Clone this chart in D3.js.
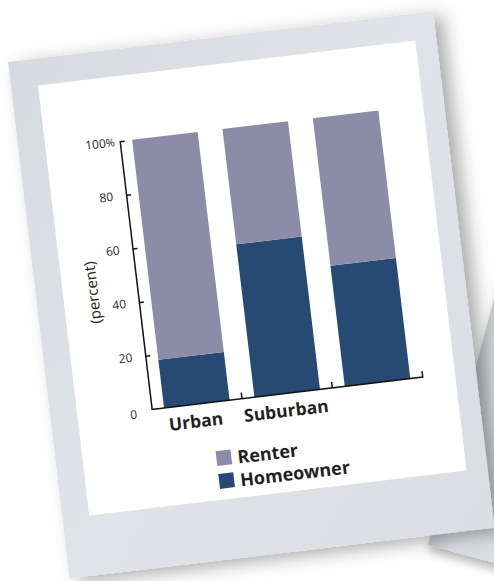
<!DOCTYPE html>
<html><head><meta charset="utf-8">
<script src="https://cdn.jsdelivr.net/npm/d3@7"></script>
<style>
html,body{margin:0;padding:0;background:#fff;overflow:hidden;}
svg{display:block;}
</style></head>
<body>
<script>
// ---- data ----
const categories = ["Urban", "Suburban", ""];
const homeowner = [18, 57, 45];
const renter = [82, 43, 55];
const seriesNames = ["Renter", "Homeowner"];
const yTicks = [0, 20, 40, 60, 80, 100];
const yTitle = "(percent)";

const colors = {Renter: "#8c8ca8", Homeowner: "#264a73"};

const W = 494, H = 581;
const svg = d3.select("body").append("svg").attr("width", W).attr("height", H);
svg.append("rect").attr("width", W).attr("height", H).attr("fill", "#fff");

const defs = svg.append("defs");
const f = defs.append("filter").attr("id", "shadow").attr("x", "-20%").attr("y", "-20%").attr("width", "140%").attr("height", "140%");
f.append("feDropShadow").attr("dx", 9).attr("dy", 5).attr("stdDeviation", 9).attr("flood-color", "#000").attr("flood-opacity", 0.33);
const f2 = defs.append("filter").attr("id", "shadow2").attr("x", "-20%").attr("y", "-20%").attr("width", "140%").attr("height", "140%");
f2.append("feDropShadow").attr("dx", 3).attr("dy", 6).attr("stdDeviation", 5).attr("flood-color", "#000").attr("flood-opacity", 0.28);

const g1 = defs.append("linearGradient").attr("id", "frame").attr("x1", 0).attr("y1", 0).attr("x2", 1).attr("y2", 1);
g1.append("stop").attr("offset", 0).attr("stop-color", "#d7dbdf");
g1.append("stop").attr("offset", 0.5).attr("stop-color", "#e0e3e7");
g1.append("stop").attr("offset", 1).attr("stop-color", "#dadde1");
const g2 = defs.append("linearGradient").attr("id", "frame2").attr("x1", 0).attr("y1", 0).attr("x2", 1).attr("y2", 0);
g2.append("stop").attr("offset", 0).attr("stop-color", "#c6c9ce");
g2.append("stop").attr("offset", 0.06).attr("stop-color", "#d9dce0");
g2.append("stop").attr("offset", 1).attr("stop-color", "#e3e5e8");

// second card behind
const back = svg.append("g").attr("transform", "translate(428,545) rotate(15)");
back.append("rect").attr("x", 0).attr("y", -560).attr("width", 430).attr("height", 560)
  .attr("fill", "url(#frame2)").attr("filter", "url(#shadow2)");

// main card
const card = svg.append("g").attr("transform", "translate(8,62) rotate(-6.8)");
card.append("rect").attr("x", 0).attr("y", 0).attr("width", 428).attr("height", 520)
  .attr("fill", "url(#frame)").attr("filter", "url(#shadow)");
card.append("rect").attr("x", 27).attr("y", 27).attr("width", 380).attr("height", 433).attr("fill", "#fff");

const chart = card.append("g");

// scales
const x = d3.scaleBand().domain(categories).range([101.5, 374.5]).paddingInner(0.275).paddingOuter(0.1375);
const y = d3.scaleLinear().domain([0, 100]).range([362, 92]);

const rows = categories.map((c, i) => ({cat: c, Homeowner: homeowner[i], Renter: renter[i]}));
const stack = d3.stack().keys(["Homeowner", "Renter"])(rows);

chart.selectAll("g.series").data(stack).join("g").attr("class", "series")
  .attr("fill", d => colors[d.key])
  .selectAll("rect").data(d => d).join("rect")
  .attr("x", d => x(d.data.cat))
  .attr("width", x.bandwidth())
  .attr("y", d => y(d[1]))
  .attr("height", d => y(d[0]) - y(d[1]));

const axisColor = "#111";
const txtColor = "#231f20";

// y axis
const yAxis = chart.append("g").attr("transform", `translate(${x.range()[0]},0)`)
  .call(d3.axisLeft(y).tickValues(yTicks).tickSizeInner(-5).tickSizeOuter(0).tickPadding(13)
    .tickFormat(d => d));
yAxis.select(".domain").attr("stroke", axisColor).attr("stroke-width", 1.5);
yAxis.selectAll(".tick line").attr("stroke", axisColor).attr("stroke-width", 1.5)
  .filter(d => d === 0).remove();
yAxis.selectAll(".tick text").attr("font-family", "'Open Sans', sans-serif").attr("font-size", 12)
  .attr("fill", txtColor);
yAxis.selectAll(".tick text").filter(d => d === 100)
  .text(null).call(t => { t.append("tspan").text("100"); t.append("tspan").text("%").attr("font-size", 11); })
  .attr("transform", "translate(8,0)");
yAxis.selectAll(".tick text").filter(d => d === 0).attr("transform", "translate(-2,3)");
yAxis.attr("font-family", null);

// x axis
const xAxis = chart.append("g").attr("transform", `translate(0,${y(0)})`)
  .call(d3.axisBottom(x).tickSize(0).tickPadding(11));
xAxis.select(".domain").attr("stroke", axisColor).attr("stroke-width", 1.5)
  .attr("d", `M${x.range()[0]},0H${x.range()[1]}V-6`);
xAxis.selectAll(".tick text").attr("font-family", "'Open Sans', sans-serif").attr("font-size", 17.5)
  .attr("font-weight", 700).attr("fill", txtColor).attr("transform", "translate(-3,0)");
const step = x.step();
const bounds = categories.slice(0, -1).map(c => x(c) + x.bandwidth() + (step - x.bandwidth()) / 2);
xAxis.selectAll("line.sep").data(bounds).join("line").attr("class", "sep")
  .attr("x1", d => d).attr("x2", d => d).attr("y1", 0).attr("y2", -6)
  .attr("stroke", axisColor).attr("stroke-width", 1.5);

// y title
chart.append("text").attr("transform", `translate(56,${(y(0) + y(100)) / 2 + 12}) rotate(-90)`)
  .attr("text-anchor", "middle").attr("dominant-baseline", "central")
  .attr("font-family", "'Open Sans', sans-serif").attr("font-size", 15).attr("fill", txtColor)
  .text(yTitle);

// legend
const leg = chart.append("g").attr("transform", "translate(160,411)");
const li = leg.selectAll("g").data(seriesNames).join("g").attr("transform", (d, i) => `translate(0,${i * 23})`);
li.append("rect").attr("width", 15).attr("height", 15).attr("fill", d => colors[d]);
li.append("text").attr("x", 21).attr("y", 8).attr("dominant-baseline", "central")
  .attr("font-family", "'Open Sans', sans-serif").attr("font-size", 18).attr("font-weight", 700)
  .attr("fill", txtColor).text(d => d);
</script>
</body></html>
